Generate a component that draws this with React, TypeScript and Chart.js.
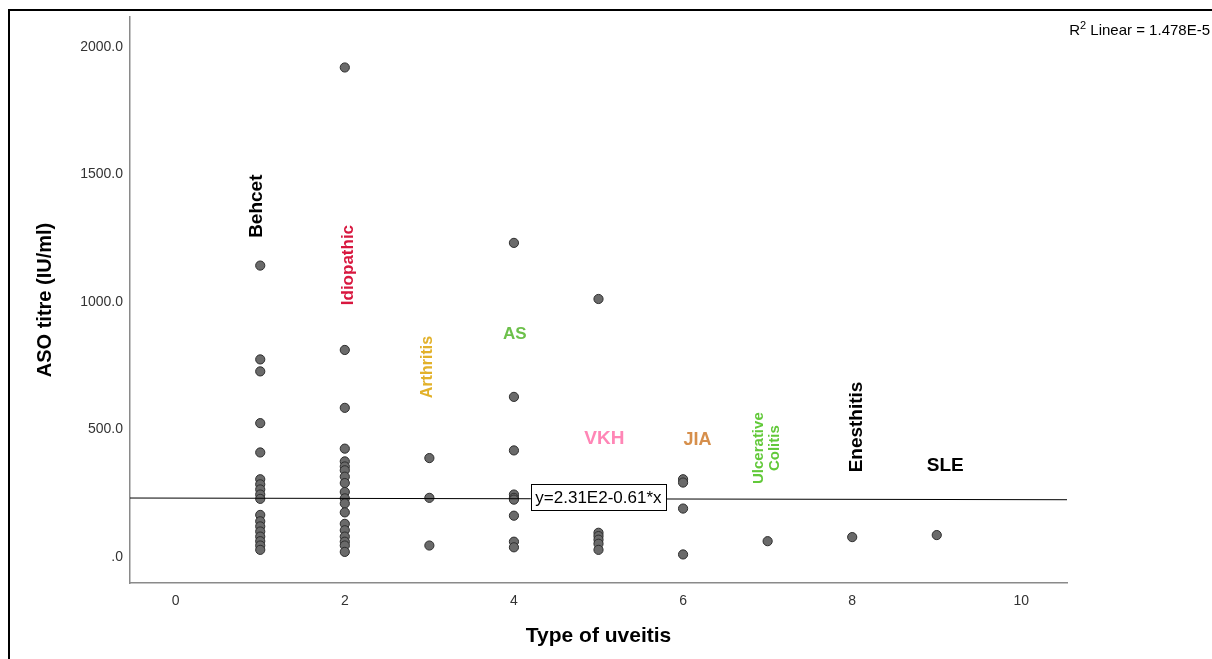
import React, { useEffect, useRef } from "react";
import { Chart, registerables } from "chart.js";

Chart.register(...registerables);

const FONT = "'Liberation Sans', Arial, Helvetica, sans-serif";

// Type of uveitis codes (x) and ASO titre values (y) per type
const uveitisTypes = [1, 2, 3, 4, 5, 6, 7, 8, 9];
const behcetValues = [1143, 775, 728, 525, 410, 305, 285, 265, 245, 228, 165, 140, 120, 100, 80, 62, 45, 28];
const idiopathicValues = [1920, 812, 585, 425, 375, 355, 340, 315, 290, 255, 230, 210, 175, 130, 105, 80, 60, 45, 20];
const arthritisValues = [388, 232, 45];
const asValues = [1232, 628, 418, 245, 232, 225, 162, 60, 38];
const vkhValues = [1012, 95, 82, 68, 52, 28];
const jiaValues = [305, 292, 190, 10];
const ulcerativeColitisValues = [62];
const enesthitisValues = [78];
const sleValues = [86];
const asoByType = [
  behcetValues,
  idiopathicValues,
  arthritisValues,
  asValues,
  vkhValues,
  jiaValues,
  ulcerativeColitisValues,
  enesthitisValues,
  sleValues,
];

// Axis ticks
const xTickValues = [0, 2, 4, 6, 8, 10];
const yTickValues = [0, 500, 1000, 1500, 2000];
const yTickLabels = [".0", "500.0", "1000.0", "1500.0", "2000.0"];

// Fit line (at the plot edges)
const trendX = [-0.54, 10.54];
const trendY = [231.3, 224.6];
const equationText = "y=2.31E2-0.61*x";
const r2Label = "Linear = 1.478E-5";

// Group labels (text, colour)
const groupNames = ["Behcet", "Idiopathic", "Arthritis", "AS", "VKH", "JIA", "Ulcerative\nColitis", "Enesthitis", "SLE"];
const groupColors = ["#000000", "#d8173f", "#e2b12a", "#6cc04a", "#ff86b6", "#d68f4c", "#62c93a", "#000000", "#000000"];

// Label placement in data units
const labelPlacement = [
  { x: 0.96, y: 1376, rotate: true, size: 19 },
  { x: 2.04, y: 1145, rotate: true, size: 17 },
  { x: 2.98, y: 745, rotate: true, size: 16 },
  { x: 4.01, y: 875, rotate: false, size: 17 },
  { x: 5.07, y: 463, rotate: false, size: 19 },
  { x: 6.17, y: 459, rotate: false, size: 18 },
  { x: 6.99, y: 427, rotate: true, size: 15 },
  { x: 8.05, y: 510, rotate: true, size: 19 },
  { x: 9.1, y: 357, rotate: false, size: 19 },
];
const equationAnchor = { x: 4.2, y: 235 };

const overlayPlugin = {
  id: "overlay",
  afterDatasetsDraw(chart: any) {
    const { ctx, scales } = chart;
    const xs = scales.x;
    const ys = scales.y;
    ctx.save();
    groupNames.forEach((name, i) => {
      const p = labelPlacement[i];
      const px = xs.getPixelForValue(p.x);
      const py = ys.getPixelForValue(p.y);
      ctx.save();
      ctx.translate(px, py);
      if (p.rotate) ctx.rotate(-Math.PI / 2);
      ctx.font = `bold ${p.size}px ${FONT}`;
      ctx.fillStyle = groupColors[i];
      ctx.textAlign = "center";
      ctx.textBaseline = "middle";
      const lines = name.split("\n");
      const lh = p.size * 1.07;
      lines.forEach((ln, j) => {
        ctx.fillText(ln, 0, (j - (lines.length - 1) / 2) * lh);
      });
      ctx.restore();
    });

    // equation box
    ctx.font = `17px ${FONT}`;
    const tw = ctx.measureText(equationText).width;
    const bx = xs.getPixelForValue(equationAnchor.x);
    const by = ys.getPixelForValue(equationAnchor.y);
    const pad = 4.5;
    const bh = 26;
    ctx.fillStyle = "#ffffff";
    ctx.fillRect(bx, by - bh / 2, tw + pad * 2, bh);
    ctx.strokeStyle = "#000000";
    ctx.lineWidth = 1;
    ctx.strokeRect(Math.round(bx) + 0.5, Math.round(by - bh / 2) + 0.5, Math.round(tw + pad * 2), bh);
    ctx.fillStyle = "#000000";
    ctx.textAlign = "left";
    ctx.textBaseline = "middle";
    ctx.fillText(equationText, bx + pad, by + 1);

    // R2 text at top right
    const rightX = 1210;
    const ty = 31;
    ctx.font = `15px ${FONT}`;
    const restW = ctx.measureText(" " + r2Label).width;
    const rW = ctx.measureText("R").width;
    ctx.font = `11px ${FONT}`;
    const supW = ctx.measureText("2").width;
    let sx = rightX - restW - supW - rW;
    ctx.fillStyle = "#000000";
    ctx.textBaseline = "middle";
    ctx.font = `15px ${FONT}`;
    ctx.fillText("R", sx, ty);
    sx += rW;
    ctx.font = `11px ${FONT}`;
    ctx.fillText("2", sx, ty - 5);
    sx += supW;
    ctx.font = `15px ${FONT}`;
    ctx.fillText(" " + r2Label, sx, ty);
    ctx.restore();
  },
};

export default function App() {
  const canvasRef = useRef<HTMLCanvasElement | null>(null);

  useEffect(() => {
    const canvas = canvasRef.current;
    if (!canvas) return;
    const scatterSets = uveitisTypes.map((t, i) => ({
      type: "scatter" as const,
      data: asoByType[i].map((v) => ({ x: t, y: v })),
      backgroundColor: "#6a6a6a",
      borderColor: "#2e2e2e",
      borderWidth: 1,
      pointRadius: 4.6,
      order: 2,
    }));
    const chart = new Chart(canvas, {
      type: "scatter",
      data: {
        datasets: [
          ...scatterSets,
          {
            type: "line" as const,
            data: trendX.map((xv, i) => ({ x: xv, y: trendY[i] })),
            borderColor: "#000000",
            borderWidth: 1,
            pointRadius: 0,
            fill: false,
            order: 1,
          } as any,
        ],
      },
      options: {
        animation: false,
        responsive: false,
        events: [],
        layout: { padding: { left: 0, top: 17, right: 145, bottom: 0 } },
        plugins: { legend: { display: false }, tooltip: { enabled: false } },
        scales: {
          x: {
            type: "linear",
            position: "bottom",
            min: -0.54,
            max: 10.54,
            afterBuildTicks: (scale: any) => {
              scale.ticks = xTickValues.map((v) => ({ value: v }));
            },
            afterFit: (scale: any) => {
              scale.height = 76;
            },
            grid: { display: false, drawTicks: false },
            border: { display: true, color: "#8a8a8a", width: 1.5 },
            ticks: {
              padding: 10,
              color: "#333333",
              font: { family: FONT, size: 14 },
              callback: (v: any) => String(v),
            },
            title: {
              display: true,
              text: "Type of uveitis",
              color: "#000000",
              font: { family: FONT, size: 21, weight: "bold" },
              padding: { top: 0, bottom: 10 },
            },
          },
          y: {
            type: "linear",
            min: -102,
            max: 2118,
            afterBuildTicks: (scale: any) => {
              scale.ticks = yTickValues.map((v) => ({ value: v }));
            },
            afterFit: (scale: any) => {
              scale.width = 130;
            },
            grid: { display: false, drawTicks: false },
            border: { display: true, color: "#8a8a8a", width: 1.5 },
            ticks: {
              padding: 7,
              color: "#333333",
              font: { family: FONT, size: 14 },
              callback: (v: any) => {
                const idx = yTickValues.indexOf(Number(v));
                return idx >= 0 ? yTickLabels[idx] : "";
              },
            },
            title: {
              display: true,
              text: "ASO titre (IU/ml)",
              color: "#000000",
              font: { family: FONT, size: 20, weight: "bold" },
              padding: { top: 33, bottom: 0 },
            },
          },
        },
      },
      plugins: [overlayPlugin],
    } as any);
    return () => chart.destroy();
  }, []);

  return (
    <div>
      <div
        style={{
          position: "fixed",
          left: 8,
          top: 9,
          width: 1204,
          height: 650,
          boxSizing: "border-box",
          borderLeft: "2px solid #000",
          borderTop: "2px solid #000",
        }}
      />
      <div style={{ position: "fixed", left: 0, top: 0, width: 1212, height: 659 }}>
        <canvas ref={canvasRef} width={1212} height={659} style={{ display: "block" }} />
      </div>
    </div>
  );
}
